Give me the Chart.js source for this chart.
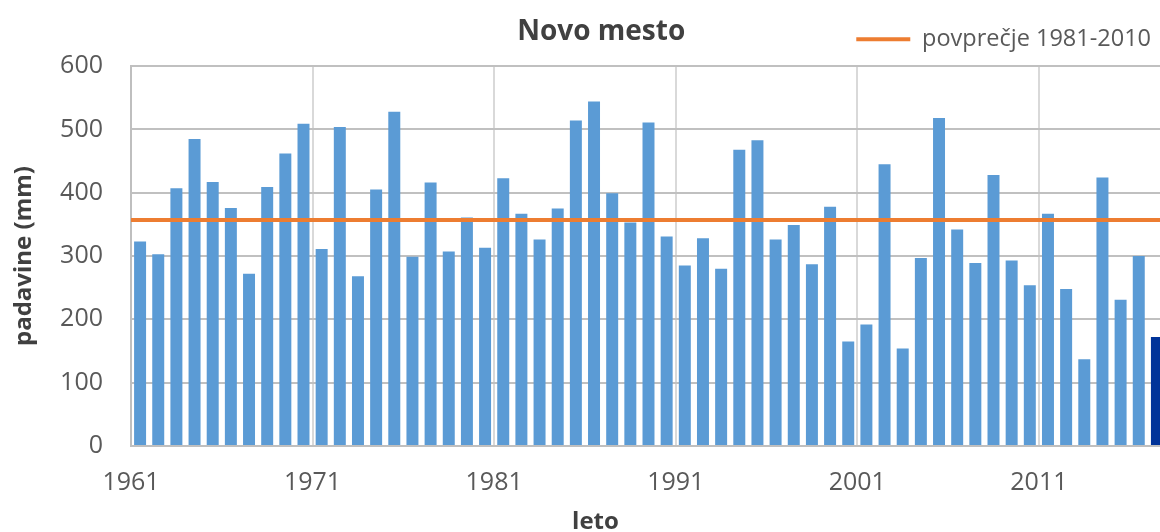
<!DOCTYPE html>
<html>
<head>
<meta charset="utf-8">
<title>Novo mesto</title>
<script src="https://cdn.jsdelivr.net/npm/chart.js@4.4.1/dist/chart.umd.min.js"></script>
<style>
  html, body { margin: 0; padding: 0; background: #fff; overflow: hidden; }
</style>
</head>
<body>
<canvas id="chart" width="1166" height="532"></canvas>
<script>
// years on the category axis
const years = [
  1961, 1962, 1963, 1964, 1965, 1966, 1967, 1968, 1969, 1970,
  1971, 1972, 1973, 1974, 1975, 1976, 1977, 1978, 1979, 1980,
  1981, 1982, 1983, 1984, 1985, 1986, 1987, 1988, 1989, 1990,
  1991, 1992, 1993, 1994, 1995, 1996, 1997, 1998, 1999, 2000,
  2001, 2002, 2003, 2004, 2005, 2006, 2007, 2008, 2009, 2010,
  2011, 2012, 2013, 2014, 2015, 2016, 2017
];

// precipitation (mm)
const rainfall = [
  323, 303, 407, 485, 417, 376, 272, 409, 462, 509,
  311, 504, 268, 405, 528, 299, 416, 307, 361, 313,
  423, 367, 326, 375, 514, 544, 399, 353, 511, 331,
  285, 328, 280, 468, 483, 326, 349, 287, 378, 165,
  192, 445, 154, 297, 518, 342, 289, 428, 293, 254,
  367, 248, 137, 424, 231, 300, 172
];

// 1981-2010 average
const average = 357;
const averageLabel = "povprečje 1981-2010";

const yTicks = [0, 100, 200, 300, 400, 500, 600];

const lightBlue = "#5B9BD5";
const darkBlue = "#003399";
const barColors = years.map((y, i) => (i === years.length - 1 ? darkBlue : lightBlue));

Chart.defaults.font.family = "'Open Sans', sans-serif";

const ctx = document.getElementById("chart").getContext("2d");
const chart = new Chart(ctx, {
  type: "bar",
  data: {
    labels: years.map(String),
    datasets: [
      {
        type: "bar",
        label: "padavine",
        data: rainfall,
        backgroundColor: barColors,
        barPercentage: 0.66,
        categoryPercentage: 1,
        grouped: false,
        order: 1,
      },
      {
        type: "line",
        label: averageLabel,
        xAxisID: "x2",
        data: [
          { x: 0, y: average },
          { x: 1, y: average },
        ],
        borderColor: "#ED7D31",
        backgroundColor: "#ED7D31",
        borderWidth: 4,
        pointRadius: 0,
        order: 0,
      },
    ],
  },
  options: {
    responsive: false,
    animation: false,
    layout: { padding: 0 },
    plugins: {
      tooltip: { enabled: false },
      title: {
        display: true,
        text: "\u00a0\u00a0\u00a0\u00a0\u00a0Novo mesto",
        color: "#404040",
        font: { size: 28, weight: "bold" },
        padding: { top: 15, bottom: -36 },
      },
      legend: {
        position: "top",
        align: "end",
        labels: {
          filter: (item) => item.datasetIndex === 1,
          usePointStyle: true,
          pointStyle: "line",
          pointStyleWidth: 54,
          color: "#595959",
          font: { size: 23.5 },
          padding: 15,
        },
      },
    },
    scales: {
      x: {
        afterFit: (scale) => {
          scale.height = 86;
          scale.paddingRight = 0;
        },
        grid: {
          color: (c) => (c.index % 10 === 0 ? "#d9d9d9" : "rgba(0,0,0,0)"),
          lineWidth: 2,
          drawTicks: false,
        },
        border: { color: "#bfbfbf", width: 2 },
        ticks: {
          autoSkip: false,
          maxRotation: 0,
          minRotation: 0,
          padding: 22,
          labelOffset: -9.08,
          color: "#595959",
          font: { size: 25 },
          callback: function (value, index) {
            return (years[index] - years[0]) % 10 === 0 ? String(years[index]) : "";
          },
        },
        title: {
          display: true,
          text: "leto" + "\u00a0".repeat(17),
          color: "#404040",
          font: { size: 24, weight: "bold", lineHeight: 1 },
          padding: { top: 10, bottom: -2 },
        },
      },
      x2: {
        type: "linear",
        position: "top",
        min: 0,
        max: 1,
        offset: false,
        grid: { display: false },
        border: { display: false },
        ticks: { display: false },
        afterFit: (scale) => {
          scale.height = 5;
        },
      },
      y: {
        min: 0,
        max: 600,
        afterBuildTicks: (scale) => {
          scale.ticks = yTicks.map((v) => ({ value: v }));
        },
        afterFit: (scale) => {
          scale.width = 131;
        },
        ticks: {
          padding: 28,
          color: "#595959",
          font: { size: 25 },
        },
        grid: { color: "#c0c0c0", lineWidth: 2, drawTicks: false },
        border: { color: "#bfbfbf", width: 2 },
        title: {
          display: true,
          text: "padavine (mm)",
          color: "#404040",
          font: { size: 24, weight: "bold" },
          padding: { top: 10, bottom: 21 },
        },
      },
    },
  },
});
</script>
</body>
</html>
